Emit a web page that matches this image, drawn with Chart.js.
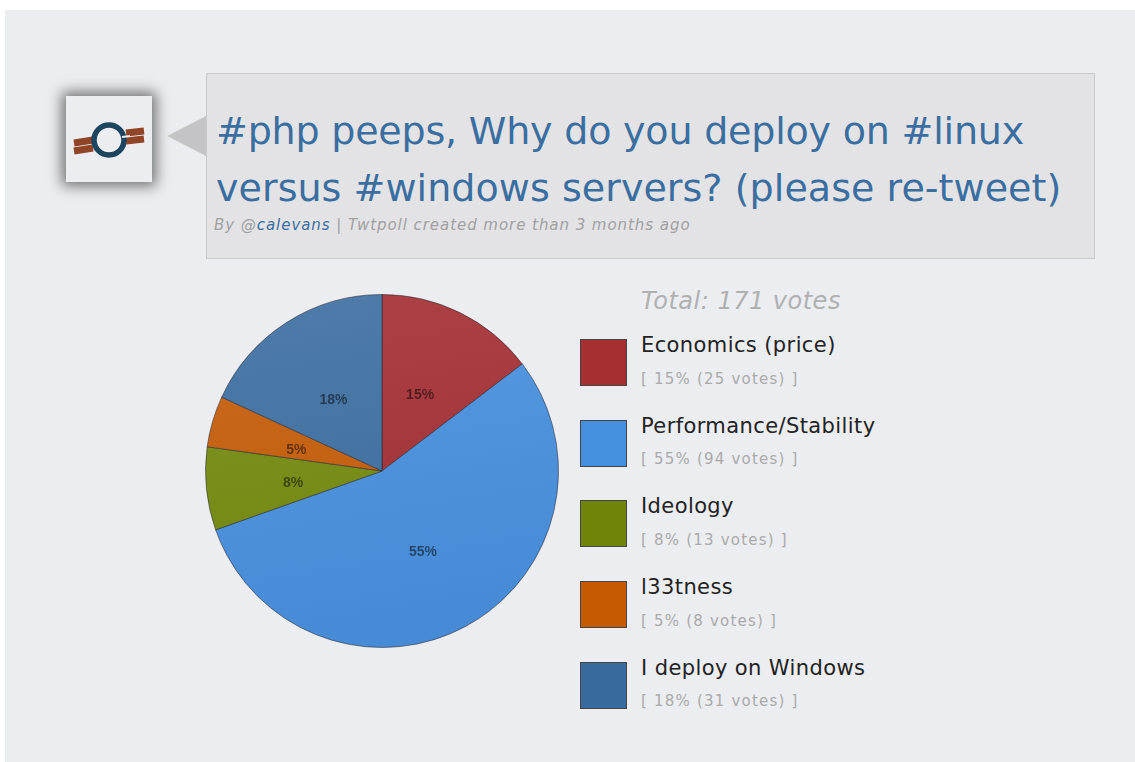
<!DOCTYPE html>
<html>
<head>
<meta charset="utf-8">
<script src="https://cdn.jsdelivr.net/npm/chart.js@4"></script>
<style>
html, body { margin: 0; padding: 0; background: #fff; }
body { width: 1135px; height: 762px; overflow: hidden; position: relative; font-family: "DejaVu Sans", sans-serif; }
#panel { position: absolute; left: 5px; top: 10px; width: 1130px; height: 752px; background: #ecedf0; }
#avatar { position: absolute; left: 66px; top: 96px; width: 86px; height: 86px; background: #ecedf0; box-shadow: 0 0 13px 4px #707070; }
#arrow { position: absolute; left: 167px; top: 116px; width: 0; height: 0; border-style: solid; border-width: 20px 39px 20px 0; border-color: transparent #c4c4c6 transparent transparent; }
#box { position: absolute; left: 206px; top: 73px; width: 887px; height: 184px; background: #e3e3e6; border: 1px solid #c8c9cb; }
#title { position: absolute; left: 9px; top: 29px; font-size: 38px; line-height: 57px; color: #3a6ea0; white-space: nowrap; }
#title .first { letter-spacing: -0.2px; }
#title .second { letter-spacing: 0.05px; }
#byline { position: absolute; left: 7px; top: 142px; font-size: 15px; letter-spacing: 0.95px; font-style: italic; color: #a0a0a0; white-space: nowrap; }
#byline span { color: #3a6ea0; }
#chart { position: absolute; left: 196px; top: 285px; }
#total { position: absolute; left: 641px; top: 287px; font-size: 24px; letter-spacing: 0.5px; font-style: italic; color: #b0b0b0; white-space: nowrap; }
.swatch { position: absolute; left: 580px; width: 45px; height: 45px; border: 1px solid #444; }
.name { position: absolute; left: 641px; font-size: 21px; letter-spacing: 0.4px; color: #222; white-space: nowrap; }
.votes { position: absolute; left: 641px; font-size: 15px; letter-spacing: 1.2px; color: #aaa; white-space: nowrap; }
</style>
</head>
<body>
<div id="panel"></div>
<div id="avatar">
  <svg width="86" height="86" viewBox="0 0 86 86" style="filter: blur(0.6px)">
    <path d="M8 47 L27 44 M8 55 L27 52 M60 37 L78 35 M60 45 L78 43" stroke="#8f4526" stroke-width="7" fill="none"/>
    <circle cx="43" cy="44" r="15" stroke="#1d4560" stroke-width="5.5" fill="none"/>
    <path d="M56 41 L64 40" stroke="#ecedf0" stroke-width="2"/>
  </svg>
</div>
<div id="arrow"></div>
<div id="box">
  <div id="title"><span class="first">#php peeps, Why do you deploy on #linux</span><br><span class="second">versus #windows servers? (please re-tweet)</span></div>
  <div id="byline">By @<span>calevans</span> | Twtpoll created more than 3 months ago</div>
</div>
<canvas id="chart" width="372" height="372"></canvas>
<div id="total">Total: 171 votes</div>
<div id="legend"></div>

<script>
// Poll data
const categories = ['Economics (price)', 'Performance/Stability', 'Ideology', 'l33tness', 'I deploy on Windows'];
const votes = [25, 94, 13, 8, 31];
const percents = [15, 55, 8, 5, 18];

// Colours
const swatchColors = ['#a52f31', '#448fde', '#6f8408', '#c55a03', '#396a9e'];
const sliceTop = ['#ad4246', '#579be3', '#84962f', '#ca6a1f', '#4f7ca9'];
const sliceBottom = ['#9d2f33', '#478ad5', '#6f8508', '#c05c0a', '#3c6c9e'];

// Legend
const legend = document.getElementById('legend');
categories.forEach((name, i) => {
    const top = 339 + i * 80.7;
    legend.innerHTML +=
        `<div class="swatch" style="top:${top}px;background:${swatchColors[i]}"></div>` +
        `<div class="name" style="top:${top - 6}px">${name}</div>` +
        `<div class="votes" style="top:${top + 30.5}px">[ ${percents[i]}% (${votes[i]} votes) ]</div>`;
});

// Percent labels in the middle of each slice
const sliceLabels = {
    id: 'sliceLabels',
    afterDatasetsDraw(chart) {
        const ctx = chart.ctx;
        ctx.save();
        ctx.font = 'bold 14px "Liberation Sans"';
        ctx.fillStyle = 'rgba(0, 0, 0, 0.5)';
        ctx.textAlign = 'center';
        ctx.textBaseline = 'middle';
        chart.getDatasetMeta(0).data.forEach((arc, i) => {
            const p = arc.tooltipPosition();
            ctx.fillText(percents[i] + '%', p.x - 1, p.y + 3.5);
        });
        ctx.restore();
    }
};

const ctx = document.getElementById('chart').getContext('2d');

function sliceGradient(i) {
    const g = ctx.createLinearGradient(0, 10, 60, 362);
    g.addColorStop(0, sliceTop[i]);
    g.addColorStop(1, sliceBottom[i]);
    return g;
}

new Chart(ctx, {
    type: 'pie',
    data: {
        labels: categories,
        datasets: [{
            data: votes,
            backgroundColor: categories.map((c, i) => sliceGradient(i)),
            borderColor: 'rgba(40, 40, 50, 0.55)',
            borderWidth: 1
        }]
    },
    options: {
        responsive: false,
        animation: false,
        layout: { padding: 9 },
        plugins: { legend: { display: false }, tooltip: { enabled: false } }
    },
    plugins: [sliceLabels]
});
</script>
</body>
</html>
